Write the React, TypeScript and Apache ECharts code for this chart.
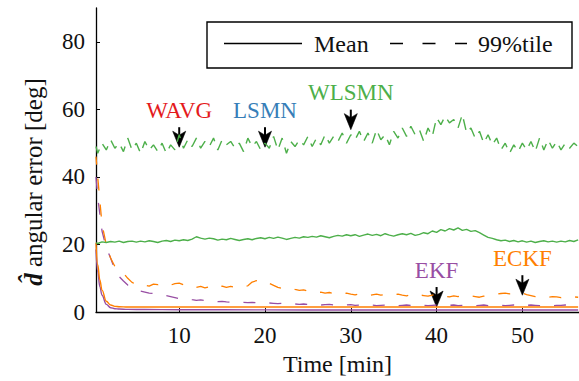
import { useEffect, useRef } from 'react';
import * as echarts from 'echarts';

// time grid [min] for the 99%-tile curves
const time = [
  0.3, 0.5, 1, 1.5, 2, 2.5, 3, 3.5, 4, 4.5,
  5, 5.5, 6, 6.5, 7, 7.5, 8, 8.5, 9, 9.5,
  10, 10.5, 11, 11.5, 12, 12.5, 13, 13.5, 14, 14.5,
  15, 15.5, 16, 16.5, 17, 17.5, 18, 18.5, 19, 19.5,
  20, 20.5, 21, 21.5, 22, 22.5, 23, 23.5, 24, 24.5,
  25, 25.5, 26, 26.5, 27, 27.5, 28, 28.5, 29, 29.5,
  30, 30.5, 31, 31.5, 32, 32.5, 33, 33.5, 34, 34.5,
  35, 35.5, 36, 36.5, 37, 37.5, 38, 38.5, 39, 39.5,
  40, 40.5, 41, 41.5, 42, 42.5, 43, 43.5, 44, 44.5,
  45, 45.5, 46, 46.5, 47, 47.5, 48, 48.5, 49, 49.5,
  50, 50.5, 51, 51.5, 52, 52.5, 53, 53.5, 54, 54.5,
  55, 55.5, 56, 56.5,
];

// WLSMN 99%tile
const wlsmn99 = [
  49, 47, 50, 48, 51, 48.5, 50, 47.5, 51.5, 48,
  50, 47, 50.5, 48, 49.5, 47.5, 50, 47, 49.5, 48,
  52.5, 48.5, 51, 49, 51.5, 48.5, 50.5, 49, 51.5, 48,
  51, 49.5, 50.5, 48.5, 50, 47.5, 51.5, 49, 50.5, 48,
  50, 48.5, 52, 48, 51.5, 47, 50.5, 49, 51, 49.5,
  52, 49, 51.5, 49.5, 52.5, 50, 52, 50.5, 53, 50,
  52.5, 51, 53.5, 50.5, 53, 50, 54, 51, 52.5, 49.5,
  53.5, 51.5, 54.5, 52, 55, 52.5, 54, 50.5, 54.5, 52,
  57.5, 55.5, 58, 56, 57, 54.5, 58.5, 53, 54.5, 51.5,
  53.5, 50, 52.5, 49.5, 51.5, 48, 50, 47, 49.5, 47.5,
  50, 48, 50.5, 47.5, 51.5, 48, 51, 48.5, 50.5, 48,
  50, 48.5, 50, 49,
];

// WLSMN mean
const wlsmnMean = [
  20.5, 20.3, 20.8, 20.6, 20.9, 20.7, 21.0, 20.6, 20.9, 21.0,
  20.7, 21.0, 20.8, 21.1, 20.9, 20.6, 21.0, 21.2, 20.9, 21.3,
  21.1, 21.4, 21.2, 21.6, 22.3, 21.9, 21.6, 21.9, 21.7, 21.3,
  21.6, 21.4, 21.8, 21.5, 21.2, 21.5, 21.7, 21.4, 21.8, 22.0,
  21.7, 22.1, 21.8, 22.2, 21.9, 21.5, 21.8, 22.1, 21.9, 22.3,
  22.1, 22.4, 22.2, 22.6, 22.3, 22.0, 22.4, 22.7, 22.5, 22.9,
  22.6, 22.9, 22.4, 22.8, 23.1, 22.7, 23.0, 22.6, 23.2, 22.8,
  22.5, 22.9, 23.2, 22.9, 23.3, 22.7, 23.0, 23.5, 23.2, 24.0,
  23.6, 24.4, 24.0, 24.7, 24.3, 24.9, 24.2, 24.5, 23.9, 24.1,
  23.5, 22.8, 22.1, 21.8, 21.4, 21.1, 21.3, 20.9, 21.2, 20.8,
  21.1, 20.7, 21.0, 20.6, 20.9, 21.1, 20.8, 21.0, 20.7, 21.0,
  20.8, 21.2, 20.9, 21.4,
];

// ECKF 99%tile
const eckf99 = [
  46, 40, 26, 20, 16, 13.5, 12, 11.5, 10, 8.8,
  8.2, 7.6, 8.0, 7.7, 8.3, 8.1, 8.6, 8.2, 8.0, 8.4,
  8.6, 8.1, 8.3, 7.8, 7.3, 7.6, 7.2, 7.5, 7.9, 7.4,
  7.7, 7.3, 7.6, 7.4, 7.6, 7.3, 7.8, 8.9, 9.3, 8.8,
  9.1, 8.5, 7.9, 7.3, 7.0, 6.8, 7.1, 6.7, 6.4, 6.6,
  6.2, 6.0, 5.7, 5.9, 5.6, 5.8, 5.5, 5.7, 5.4, 5.6,
  5.3, 5.1, 5.4, 5.2, 4.9, 5.1, 5.3, 5.0, 5.2, 4.9,
  5.1, 5.3, 5.0, 4.8, 5.2, 5.5, 5.1, 4.9, 4.7, 5.0,
  5.3, 5.0, 4.7, 4.5, 4.8, 4.6, 4.9, 5.1, 4.8, 4.6,
  4.4, 4.7, 4.9, 5.1, 5.3, 5.5, 5.6, 5.4, 5.7, 5.8,
  5.6, 5.2, 4.9, 4.6, 4.5, 4.7, 4.4, 4.6, 4.5, 4.3,
  4.6, 4.4, 4.5, 4.4,
];

// EKF 99%tile
const ekf99 = [
  40, 34, 24, 19, 16, 12.5, 10.5, 9.2, 8.0, 7.2,
  6.5, 6.2, 5.9, 5.6, 5.5, 5.3, 5.1, 4.9, 4.6, 4.3,
  4.0, 4.2, 4.0, 3.7, 3.5, 3.6, 3.4, 3.2, 3.3, 3.1,
  3.2, 3.0, 2.9, 3.0, 2.9, 2.9, 2.8, 2.9, 2.8, 2.7,
  2.6, 2.7, 2.6, 2.5, 2.6, 2.4, 2.5, 2.4, 2.3, 2.4,
  2.3, 2.2, 2.3, 2.1, 2.2, 2.3, 2.1, 2.2, 2.0, 2.1,
  2.2, 2.0, 2.1, 2.2, 2.0, 2.1, 1.9, 2.0, 2.1, 2.0,
  2.1, 1.9, 2.0, 2.1, 2.0, 1.9, 2.1, 2.0, 1.9, 2.0,
  2.1, 2.0, 1.9, 2.0, 2.1, 1.9, 2.0, 2.1, 2.0, 1.9,
  2.0, 2.1, 1.9, 2.0, 2.1, 2.0, 1.9, 2.0, 2.1, 2.0,
  1.9, 2.0, 2.1, 2.0, 1.9, 2.0, 2.1, 1.9, 2.0, 2.0,
  2.1, 1.9, 2.0, 2.0,
];

// mean curves of the filters (own time grid)
const timeMean = [0.3, 0.5, 0.75, 1, 1.5, 2, 2.5, 3, 4, 6, 10, 20, 30, 40, 50, 56.5];
const eckfMean = [20.5, 14, 9.5, 6.5, 3.2, 2.1, 1.7, 1.6, 1.5, 1.5, 1.5, 1.5, 1.5, 1.5, 1.5, 1.5];
const ekfMean = [18.5, 12, 7.5, 5, 2.3, 1.3, 1.0, 0.9, 0.8, 0.75, 0.7, 0.65, 0.6, 0.6, 0.6, 0.6];

// annotations
const annLabels = ['WAVG', 'LSMN', 'WLSMN', 'EKF', 'ECKF'];
const annX = [10, 20, 30, 40, 50];
const annY = [48.8, 48.8, 54, 1.5, 5];
const annColors = ['#e41a1c', '#377eb8', '#4daf4a', '#984ea3', '#ff7f00'];

const yTicks = [0, 20, 40, 60, 80];
const xTicks = [10, 20, 30, 40, 50];

const GREEN = '#4daf4a';
const ORANGE = '#ff7f00';
const PURPLE = '#984ea3';
const FONT = "'Liberation Serif'";

const xy = (ts: number[], ys: number[]) => ts.map((t, i) => [t, ys[i]]);

export default function App() {
  const ref = useRef<HTMLDivElement>(null);
  useEffect(() => {
    document.body.style.margin = '0';
    if (!ref.current) return;
    const chart = echarts.init(ref.current, undefined, { renderer: 'svg' });
    const dash = [12, 14];
    chart.setOption({
      animation: false,
      textStyle: { fontFamily: FONT },
      grid: { left: 96, right: 0, top: 8, bottom: 64, containLabel: false },
      xAxis: {
        type: 'value',
        min: 0.3,
        max: 56.6,
        name: 'Time [min]',
        nameLocation: 'middle',
        nameGap: 38,
        nameTextStyle: { fontFamily: FONT, fontSize: 24, color: '#111' },
        axisLine: { show: true, onZero: false, lineStyle: { color: '#000', width: 1.3 } },
        axisTick: { show: true, inside: true, length: 4, customValues: xTicks, lineStyle: { color: '#000', width: 1 } },
        axisLabel: { customValues: xTicks, fontFamily: FONT, fontSize: 23, color: '#111', margin: 12 },
        splitLine: { show: false },
      },
      yAxis: {
        type: 'value',
        min: 0,
        max: 90,
        axisLine: { show: true, lineStyle: { color: '#000', width: 1.3 } },
        axisTick: { show: true, inside: true, length: 4, customValues: yTicks, lineStyle: { color: '#000', width: 1 } },
        axisLabel: { customValues: yTicks, fontFamily: FONT, fontSize: 23, color: '#111', margin: 11 },
        splitLine: { show: false },
      },
      series: [
        {
          type: 'line', name: 'EKF mean', data: xy(timeMean, ekfMean), showSymbol: false,
          smooth: 0.4, smoothMonotone: 'x', lineStyle: { color: PURPLE, width: 1.4 }, z: 2,
        },
        {
          type: 'line', name: 'EKF 99%tile', data: xy(time, ekf99), showSymbol: false,
          lineStyle: { color: PURPLE, width: 1.3, type: dash }, z: 2,
        },
        {
          type: 'line', name: 'ECKF mean', data: xy(timeMean, eckfMean), showSymbol: false,
          smooth: 0.4, smoothMonotone: 'x', lineStyle: { color: ORANGE, width: 1.4 }, z: 3,
        },
        {
          type: 'line', name: 'ECKF 99%tile', data: xy(time, eckf99), showSymbol: false,
          lineStyle: { color: ORANGE, width: 1.3, type: dash, dashOffset: 4 }, z: 3,
        },
        {
          type: 'line', name: 'WLSMN mean', data: xy(time, wlsmnMean), showSymbol: false,
          lineStyle: { color: GREEN, width: 1.4 }, z: 4,
        },
        {
          type: 'line', name: 'WLSMN 99%tile', data: xy(time, wlsmn99), showSymbol: false,
          lineStyle: { color: GREEN, width: 1.4, type: [11, 8] }, z: 4,
        },
      ],
    });

    const ann = annLabels.map((name, i) => {
      const p = chart.convertToPixel({ xAxisIndex: 0, yAxisIndex: 0 }, [annX[i], annY[i]]) as number[];
      return {
        type: 'group',
        x: p[0],
        y: p[1],
        z: 100,
        children: [
          { type: 'line', shape: { x1: 0, y1: -20, x2: 0, y2: -10 }, style: { stroke: '#000', lineWidth: 2 } },
          { type: 'polygon', shape: { points: [[-6.5, -16], [0, 0], [6.5, -16], [0, -12]] }, style: { fill: '#000', stroke: '#000', lineWidth: 0.6 } },
          {
            type: 'text', x: 0, y: -37,
            style: { text: name, fill: annColors[i], fontSize: 23, fontFamily: FONT, align: 'center', verticalAlign: 'middle' },
          },
        ],
      };
    });

    const legend = [
      { type: 'rect', z: 100, shape: { x: 207, y: 22, width: 365, height: 46 }, style: { fill: '#fff', stroke: '#000', lineWidth: 1.4 } },
      { type: 'line', z: 101, shape: { x1: 224, y1: 43.5, x2: 302, y2: 43.5 }, style: { stroke: '#000', lineWidth: 1.3 } },
      { type: 'text', z: 101, x: 314, y: 44, style: { text: 'Mean', fill: '#111', fontSize: 24, fontFamily: FONT, align: 'left', verticalAlign: 'middle' } },
      { type: 'line', z: 101, shape: { x1: 390, y1: 43.5, x2: 467, y2: 43.5 }, style: { stroke: '#000', lineWidth: 1.3, lineDash: [13, 19.5] } },
      { type: 'text', z: 101, x: 478, y: 44, style: { text: '99%tile', fill: '#111', fontSize: 24, fontFamily: FONT, align: 'left', verticalAlign: 'middle' } },
    ];

    const yName = {
      type: 'text', z: 100, x: 33, y: 182, rotation: Math.PI / 2,
      style: {
        text: '{b|d\u0302} angular error [deg]',
        fill: '#111', fontSize: 25, fontFamily: FONT, align: 'center', verticalAlign: 'middle',
        rich: { b: { fontWeight: 'bold', fontStyle: 'italic', fontSize: 25, fontFamily: FONT, fill: '#111' } },
      },
    };

    chart.setOption({ graphic: [...legend, ...ann, yName] });
    return () => chart.dispose();
  }, []);
  return <div ref={ref} style={{ width: 579, height: 381 }} />;
}
